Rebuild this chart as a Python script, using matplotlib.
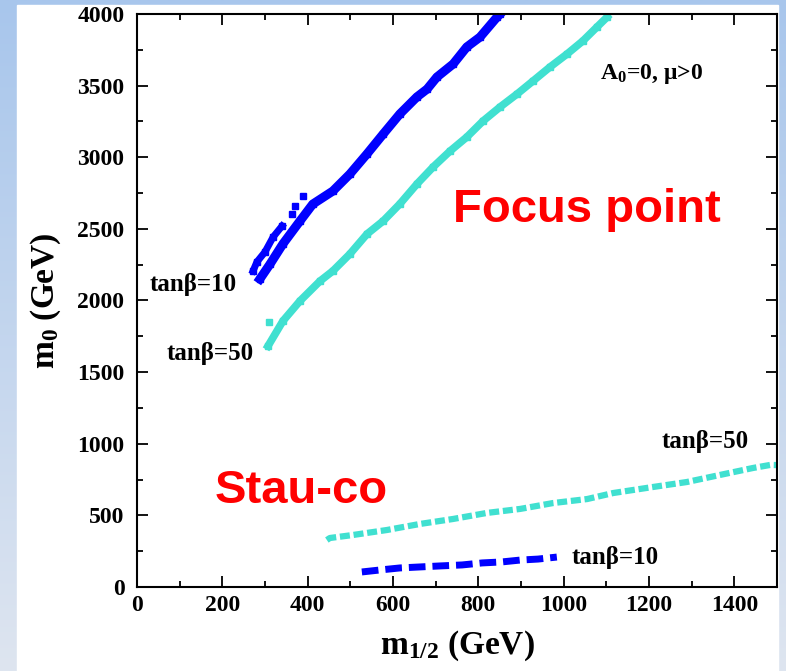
import matplotlib.pyplot as plt
import numpy as np
from matplotlib.patches import Rectangle

plt.rcParams['font.family'] = ['Liberation Serif', 'DejaVu Serif']
plt.rcParams['mathtext.fontset'] = 'custom'
plt.rcParams['mathtext.rm'] = 'Liberation Serif:bold'
plt.rcParams['mathtext.bf'] = 'Liberation Serif:bold'
plt.rcParams['mathtext.it'] = 'Liberation Serif:bold'

# focus point, tan(beta)=10 (main strand)
fp10_x = [288, 312, 342, 382, 412, 459, 499, 539, 577, 616, 656, 680, 703, 741, 773, 804, 844, 851]
fp10_y = [2150, 2255, 2395, 2555, 2673, 2764, 2883, 3023, 3162, 3302, 3421, 3476, 3560, 3651, 3770, 3839, 3979, 4000]
# focus point, tan(beta)=10 (short upper strand + stray points)
fp10b_x = [272, 281, 300, 319, 340]
fp10b_y = [2206, 2269, 2339, 2443, 2520]
fp10c_x = [363, 370, 389]
fp10c_y = [2604, 2660, 2730]

# focus point, tan(beta)=50
fp50_x = [307, 342, 382, 429, 459, 499, 539, 577, 616, 656, 694, 734, 773, 811, 851, 891, 928, 968, 1008, 1045, 1078, 1102]
fp50_y = [1682, 1857, 1997, 2136, 2206, 2325, 2464, 2555, 2674, 2813, 2932, 3044, 3141, 3253, 3351, 3442, 3532, 3630, 3721, 3812, 3909, 3979]
fp50_stray_x = [309]
fp50_stray_y = [1850]

# stau coannihilation strips
sc50_x = [445, 452, 506, 586, 663, 741, 820, 898, 975, 1055, 1116, 1209, 1289, 1366, 1444, 1484, 1500]
sc50_y = [328, 342, 363, 398, 440, 475, 517, 545, 586, 614, 656, 698, 733, 782, 831, 852, 851]
sc10_x = [527, 570, 616, 663, 710, 762, 809, 855, 898, 940, 984]
sc10_y = [105, 119, 133, 140, 147, 154, 168, 175, 188, 195, 209]

blue = '#0000ff'
cyan = '#40e0d0'

fig = plt.figure(figsize=(7.86, 6.71), dpi=100)

# slide background gradient + white panel
bg = fig.add_axes([0, 0, 1, 1], zorder=-10)
grad = np.linspace(0, 1, 256).reshape(-1, 1)
top_c = np.array([168, 198, 236]) / 255
bot_c = np.array([222, 229, 240]) / 255
img = top_c + (bot_c - top_c) * grad
bg.imshow(img.reshape(256, 1, 3), aspect='auto', extent=[0, 1, 0, 1])
bg.add_patch(Rectangle((17 / 786, 0), (778 - 17) / 786, 1 - 5 / 671, color='white'))
bg.set_xlim(0, 1)
bg.set_ylim(0, 1)
bg.axis('off')

ax = fig.add_axes([137 / 786, 1 - 587 / 671, 640 / 786, 573 / 671])

ax.plot(fp10_x, fp10_y, color=blue, lw=6.5, marker='s', ms=5)
ax.plot(fp10b_x, fp10b_y, color=blue, lw=5, marker='s', ms=4.5)
ax.plot(fp10c_x, fp10c_y, color=blue, ls='none', marker='s', ms=4.5)
ax.plot(fp50_x, fp50_y, color=cyan, lw=5.5, marker='s', ms=4.5)
ax.plot(fp50_stray_x, fp50_stray_y, color=cyan, ls='none', marker='s', ms=4.5)
ax.plot(sc50_x, sc50_y, color=cyan, lw=4.5, ls=(0, (1.6, 0.6)))
ax.plot(sc10_x, sc10_y, color=blue, lw=5, ls=(0, (2.4, 1.0)))

ax.set_xlim(0, 1500)
ax.set_ylim(0, 4000)
ax.set_xticks(np.arange(0, 1401, 200))
ax.set_xticks(np.arange(0, 1501, 100), minor=True)
ax.set_yticks(np.arange(0, 4001, 500))
ax.set_yticks(np.arange(0, 4001, 250), minor=True)
ax.tick_params(which='both', direction='in', top=True, right=True, width=1.3)
ax.tick_params(which='major', length=8, labelsize=17)
ax.tick_params(axis='x', which='major', pad=6)
ax.tick_params(axis='y', which='major', pad=9)
ax.tick_params(which='minor', length=4.5)
for lab in ax.get_xticklabels() + ax.get_yticklabels():
    lab.set_fontweight('bold')
for sp in ax.spines.values():
    sp.set_linewidth(1.5)

ax.set_xlabel(r'$\mathbf{m}_{\mathbf{1/2}}$ (GeV)', fontsize=24, fontweight='bold', labelpad=9)
ax.set_ylabel(r'$\mathbf{m}_{\mathbf{0}}$ (GeV)', fontsize=24, fontweight='bold', labelpad=10)

ax.text(1085, 3545, r'$\mathbf{A}_{\mathbf{0}}$=0, μ>0', fontsize=17, fontweight='bold')
ax.text(30, 2066, 'tanβ=10', fontsize=18, fontweight='bold')
ax.text(70, 1585, 'tanβ=50', fontsize=18, fontweight='bold')
ax.text(1230, 970, 'tanβ=50', fontsize=18, fontweight='bold')
ax.text(1019, 160, 'tanβ=10', fontsize=18, fontweight='bold')

ax.text(740, 2548, 'Focus point', fontsize=34, fontweight='bold', color='red',
        family='Liberation Sans')
ax.text(183, 586, 'Stau-co', fontsize=34, fontweight='bold', color='red',
        family='Liberation Sans')

fig.savefig('out.png', dpi=100)
